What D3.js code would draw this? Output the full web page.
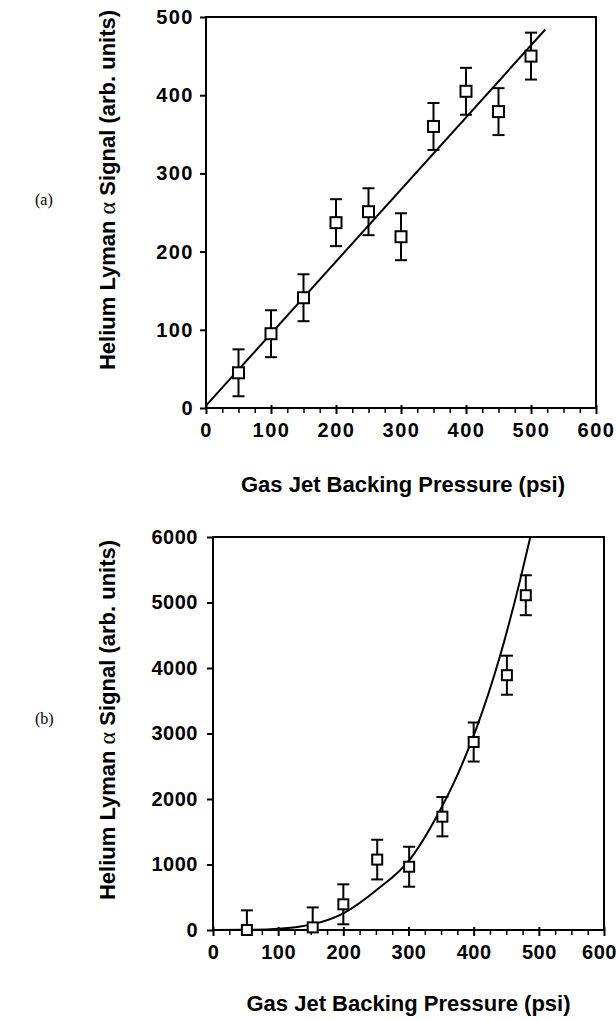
<!DOCTYPE html>
<html>
<head>
<meta charset="utf-8">
<script src="https://cdn.jsdelivr.net/npm/d3@7/dist/d3.min.js"></script>
<style>
  body { margin: 0; background: #fff; }
  svg { display: block; }
  text { font-family: "Liberation Sans", Arial, Helvetica, sans-serif; fill: #000; }
</style>
</head>
<body>
<div id="vis"></div>
<script>
// DATA

// panel (a)
const pressureA = [50, 100, 150, 200, 250, 300, 350, 400, 450, 500];
const signalA   = [45, 95, 141, 237, 251, 219, 360, 405, 379, 450];
const errA      = [30, 30, 30, 30, 30, 30, 30, 30, 30, 30];
// fitted straight line, its two end points
const fitA = [[0, 3], [522, 484]];
const xTicksA = [0, 100, 200, 300, 400, 500, 600];
const yTicksA = [0, 100, 200, 300, 400, 500];

// panel (b)
const pressureB = [52, 153, 200, 252, 301, 352, 400, 451, 480];
const signalB   = [0, 40, 392, 1075, 966, 1730, 2870, 3890, 5111];
const errB      = [300, 305, 305, 303, 305, 300, 298, 298, 305];
// fitted curve, points traced along it
const fitB = [[0, 0], [50, 2], [100, 20], [134, 55], [160, 105], [200, 254], [251, 610],
              [302, 1075], [348, 1820], [372, 2300], [405, 3101], [440, 4169], [471, 5330], [487, 6000]];
const xTicksB = [0, 100, 200, 300, 400, 500, 600];
const yTicksB = [0, 1000, 2000, 3000, 4000, 5000, 6000];

const xTitle = "Gas Jet Backing Pressure (psi)";

const W = 616, H = 1021;
const svg = d3.select("#vis").append("svg").attr("width", W).attr("height", H);

function drawPanel(p) {
  const x = d3.scaleLinear().domain([0, 600]).range([p.left, p.right]);
  const y = d3.scaleLinear().domain([0, p.ymax]).range([p.bottom, p.top]);
  const g = svg.append("g");

  // frame
  g.append("rect")
    .attr("x", p.left).attr("y", p.top)
    .attr("width", p.right - p.left).attr("height", p.bottom - p.top)
    .attr("fill", "none").attr("stroke", "#000").attr("stroke-width", 2);

  // x axis: minor ticks every 25, major every 100
  const minor = d3.range(0, 601, 25).filter(v => v % 100 !== 0);
  g.append("g").attr("transform", `translate(0,${p.bottom})`)
    .call(d3.axisBottom(x).tickValues(minor).tickSize(5).tickFormat(""))
    .call(a => a.select(".domain").remove())
    .selectAll("line").attr("stroke-width", 1.5);

  const xa = g.append("g").attr("transform", `translate(0,${p.bottom})`)
    .call(d3.axisBottom(x).tickValues(p.xTicks).tickSize(6).tickPadding(9).tickFormat(d3.format("d")))
    .call(a => a.select(".domain").remove());
  xa.selectAll("line").attr("stroke-width", 2).attr("y1", -3);
  xa.selectAll("text")
    .style("font-family", "Liberation Sans, Arial, sans-serif")
    .style("font-weight", "bold").style("font-size", p.tickFont + "px")
    .style("letter-spacing", p.spacing + "px");
  // last label sits on the page edge
  xa.selectAll("text").filter(d => d === 600).attr("dx", p.lastDx);

  const ya = g.append("g").attr("transform", `translate(${p.left},0)`)
    .call(d3.axisLeft(y).tickValues(p.yTicks).tickSize(6).tickPadding(p.yPad).tickFormat(d3.format("d")))
    .call(a => a.select(".domain").remove());
  ya.selectAll("line").attr("stroke-width", 2);
  ya.selectAll("text")
    .style("font-family", "Liberation Sans, Arial, sans-serif")
    .style("font-weight", "bold").style("font-size", p.tickFont + "px")
    .style("letter-spacing", p.spacing + "px");

  // fit
  const line = d3.line().x(d => x(d[0])).y(d => y(d[1])).curve(p.curve);
  g.append("path").datum(p.fit)
    .attr("d", line).attr("fill", "none").attr("stroke", "#000").attr("stroke-width", 2);

  // error bars
  const pts = p.xs.map((v, i) => ({ x: v, y: p.ys[i], e: p.es[i] }));
  const eb = g.selectAll(".err").data(pts).enter().append("g").attr("class", "err");
  eb.append("line")
    .attr("x1", d => x(d.x)).attr("x2", d => x(d.x))
    .attr("y1", d => y(d.y + d.e)).attr("y2", d => y(Math.max(0, d.y - d.e)))
    .attr("stroke", "#000").attr("stroke-width", 2);
  eb.append("line")
    .attr("x1", d => x(d.x) - 6).attr("x2", d => x(d.x) + 6)
    .attr("y1", d => y(d.y + d.e)).attr("y2", d => y(d.y + d.e))
    .attr("stroke", "#000").attr("stroke-width", 2);
  eb.filter(d => d.y - d.e > 0).append("line")
    .attr("x1", d => x(d.x) - 6).attr("x2", d => x(d.x) + 6)
    .attr("y1", d => y(d.y - d.e)).attr("y2", d => y(d.y - d.e))
    .attr("stroke", "#000").attr("stroke-width", 2);

  // open squares
  g.selectAll(".sq").data(pts).enter().append("rect")
    .attr("class", "sq")
    .attr("x", d => x(d.x) - p.sq / 2).attr("y", d => y(d.y) - p.sq / 2)
    .attr("width", p.sq).attr("height", p.sq)
    .attr("fill", "#fff").attr("stroke", "#000").attr("stroke-width", 2);

  // titles
  g.append("text")
    .attr("x", (p.left + p.right) / 2 + p.xtDx).attr("y", p.xtY)
    .attr("text-anchor", "middle")
    .style("font-weight", "bold").style("font-size", "22px")
    .text(xTitle);

  const yt = g.append("text")
    .attr("transform", `translate(${p.ytX},${p.ytY}) rotate(-90)`)
    .attr("text-anchor", "middle")
    .style("font-weight", "bold").style("font-size", "22px");
  yt.append("tspan").text("Helium Lyman ");
  yt.append("tspan").style("font-family", "Liberation Serif, serif").style("font-weight", "normal")
    .style("font-size", "24px").text("α");
  yt.append("tspan").text(" Signal (arb. units)");

  svg.append("text")
    .attr("x", 35).attr("y", p.tagY)
    .style("font-family", "Liberation Serif, Times New Roman, serif")
    .style("font-size", "16px")
    .text(p.tag);
}

drawPanel({
  left: 206, right: 596, top: 17, bottom: 408, ymax: 500,
  xs: pressureA, ys: signalA, es: errA, fit: fitA, curve: d3.curveLinear,
  xTicks: xTicksA, yTicks: yTicksA, tickFont: 20, spacing: 1.5, yPad: 6, sq: 11, lastDx: 0,
  xtY: 492, xtDx: 2, ytX: 115, ytY: 190, tag: "(a)", tagY: 205
});

drawPanel({
  left: 213, right: 604, top: 537, bottom: 930, ymax: 6000,
  xs: pressureB, ys: signalB, es: errB, fit: fitB, curve: d3.curveMonotoneX,
  xTicks: xTicksB, yTicks: yTicksB, tickFont: 20, spacing: 0.5, yPad: 9, sq: 10, lastDx: -5,
  xtY: 1011, xtDx: 0, ytX: 115, ytY: 720, tag: "(b)", tagY: 724
});
</script>
</body>
</html>
